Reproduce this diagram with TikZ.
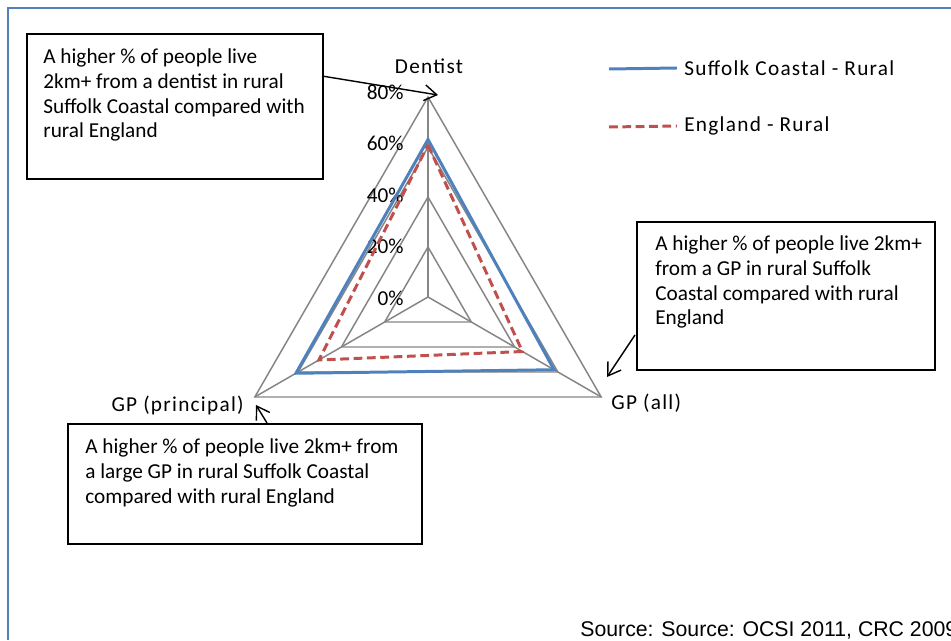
\documentclass[tikz,border=0pt]{standalone}
\usepackage{fontspec}
\setmainfont{Carlito}
\newfontfamily\srcfont{Liberation Sans}
\newfontfamily\labelfont[LetterSpace=6]{Carlito}
\usetikzlibrary{arrows.meta, positioning}

\definecolor{suffblue}{RGB}{79,129,189}
\definecolor{engred}{RGB}{192,80,77}
\definecolor{gridgray}{RGB}{134,134,134}
\newcommand{\chartfont}{\fontsize{12.1}{14.2}\selectfont}

\begin{document}
\begin{tikzpicture}[x=0.02cm, y=0.02cm, >={Straight Barb[length=7pt,width=9pt]},
    every node/.style={font=\chartfont, inner sep=0pt},
    axislabel/.style={font=\labelfont\chartfont},
    gridline/.style={gridgray, line width=0.85pt},
    suffline/.style={suffblue, line width=1.7pt},
    engline/.style={engred, line width=1.7pt, dash pattern=on 5pt off 2.6pt},
    notebox/.style={draw, line width=0.9pt, anchor=north west},
    notetext/.style={align=left, anchor=north west},
    callout/.style={->, line width=0.8pt}]
    \useasboundingbox (0,0) rectangle (951,640);

    % 1. Khung xanh
    \draw[suffblue, line width=1.7pt] (951,632) -- (8,632) -- (8,0);

    % 2. Lưới radar và dữ liệu
    \begin{scope}[shift={(428,343)}]
        \coordinate (O) at (0,0);
        \foreach \r in {50,100,150,200}
            \draw[gridline] (90:\r) -- (-30:\r) -- (210:\r) -- cycle;
        \foreach \a/\n in {90/dv, -30/av, 210/pv}
            \draw[gridline] (O) -- (\a:200) coordinate (\n);
        \foreach \k/\p in {0/0, 1/20, 2/40, 3/60, 4/80}
            \node[anchor=east] (pct\k) at (-24, 51.5*\k-1) {\p\%};
        % Suffolk Coastal - Rural
        \draw[suffline] (90:157.5) -- (-30:145.5) -- (210:152.5) -- cycle;
        % England - Rural
        \draw[engline] (90:152) -- (-30:109) -- (210:126) -- cycle;
    \end{scope}

    % 3. Nhãn các trục
    \node[axislabel] (dentist) at (429,574) {Dentist};
    \node[axislabel, anchor=west] (gpall) at (611,237) {GP (all)};
    \node[axislabel, anchor=east] (gpprin) at (244,235) {GP (principal)};

    % 4. Chú giải
    \node[axislabel, anchor=west] (lgsuff) at (684,572) {Suffolk Coastal - Rural};
    \node[axislabel, anchor=west] (lgeng) at (684,514) {England - Rural};
    \coordinate (lgsuffA) at (609,571);
    \coordinate (lgengA) at (609,513);
    \draw[suffline] (lgsuffA) -- ([xshift=-4pt]lgsuff.west);
    \draw[engline] (lgengA) -- ([xshift=-4pt]lgeng.west);

    % 5. Các hộp chú thích
    \node[notebox, minimum width=5.92cm, minimum height=2.9cm] (dentbox) at (26,607) {};
    \node[notetext] (denttext) at (43,592) {A higher \% of people live\\2km+ from a dentist in rural\\Suffolk Coastal compared with\\rural England};

    \node[notebox, minimum width=5.96cm, minimum height=2.97cm] (gpbox) at (636,419) {};
    \node[notetext] (gptext) at (655,405) {A higher \% of people live 2km+\\from a GP in rural Suffolk\\Coastal compared with rural\\England};

    \node[notebox, minimum width=7.08cm, minimum height=2.4cm] (prinbox) at (67,217) {};
    \node[notetext] (printext) at (85,202) {A higher \% of people live 2km+ from\\a large GP in rural Suffolk Coastal\\compared with rural England};

    % 6. Mũi tên
    \coordinate (dentfrom) at (322,564);
    \coordinate (denttip) at (438,545);
    \coordinate (gpfrom) at (635,305);
    \coordinate (gptip) at (607,263);
    \coordinate (prinfrom) at (267,217);
    \coordinate (printip) at (256,235);
    \draw[callout] (dentfrom) -- (denttip);
    \draw[callout] (gpfrom) -- (gptip);
    \draw[callout] (prinfrom) -- (printip);

    % 7. Nguồn (bị cắt ở mép phải như bản gốc)
    \node[anchor=west, font=\srcfont\chartfont] (src) at (580,10) {Source: Source: OCSI 2011, CRC 2009};
\end{tikzpicture}
\end{document}
